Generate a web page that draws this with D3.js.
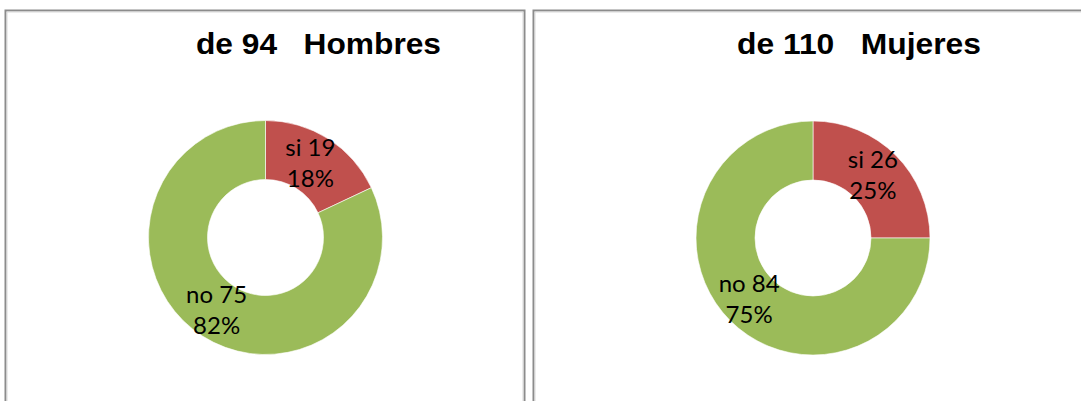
<!DOCTYPE html>
<html>
<head>
<meta charset="utf-8">
<script src="https://cdn.jsdelivr.net/npm/d3@7"></script>
<style>
  html, body { margin: 0; padding: 0; background: #ffffff; }
  svg { display: block; }
</style>
</head>
<body>
<svg id="chart" width="1081" height="401"></svg>
<script>
// ---- data ----
const titles = ["de 94   Hombres", "de 110   Mujeres"];
const categories = ["si", "no"];
const countsHombres = [19, 75];
const countsMujeres = [26, 84];
const sharesHombres = [18, 82];   // shown percentages (slice sizes)
const sharesMujeres = [25, 75];
const colors = ["#C0504D", "#9BBB59"];

const panels = [
  { title: titles[0], counts: countsHombres, shares: sharesHombres,
    box: [5.5, 10.5, 519, 420], cx: 265.5, cy: 237.5, titleX: 196, titleLen: 245 },
  { title: titles[1], counts: countsMujeres, shares: sharesMujeres,
    box: [533.5, 10.5, 600, 420], cx: 813, cy: 238, titleX: 737, titleLen: 244 }
];

const svg = d3.select("#chart");
const R = 117, r = 58;

const pie = d3.pie().sort(null).value(d => d.share);
const arc = d3.arc().innerRadius(r).outerRadius(R);

panels.forEach(p => {
  // frame
  svg.append("rect")
    .attr("x", p.box[0]).attr("y", p.box[1])
    .attr("width", p.box[2]).attr("height", p.box[3])
    .attr("fill", "#ffffff")
    .attr("stroke", "#8c8c8c").attr("stroke-width", 2);
  svg.append("rect")
    .attr("x", p.box[0] + 1.5).attr("y", p.box[1] + 1.5)
    .attr("width", p.box[2] - 3).attr("height", p.box[3] - 3)
    .attr("fill", "none")
    .attr("stroke", "#d9d9d9").attr("stroke-width", 1);

  // title
  svg.append("text")
    .attr("x", p.titleX).attr("y", 54)
    .attr("textLength", p.titleLen)
    .attr("lengthAdjust", "spacingAndGlyphs")
    .style("white-space", "pre")
    .attr("font-family", "'Liberation Sans', Arial, sans-serif")
    .attr("font-weight", "bold")
    .attr("font-size", 29)
    .attr("fill", "#000")
    .text(p.title);

  const data = categories.map((c, i) => ({ cat: c, count: p.counts[i], share: p.shares[i] }));
  const g = svg.append("g").attr("transform", `translate(${p.cx},${p.cy})`);
  const arcs = pie(data);

  g.selectAll("path").data(arcs).join("path")
    .attr("d", arc)
    .attr("fill", (d, i) => colors[i])
    .attr("stroke", "#ffffff").attr("stroke-width", 0.6);

  const lbl = g.selectAll("text.lbl").data(arcs).join("text")
    .attr("class", "lbl")
    .attr("transform", d => { const c = arc.centroid(d); return `translate(${c[0] - 2},${c[1] - 1})`; })
    .attr("text-anchor", "middle")
    .attr("font-family", "Lato, 'Open Sans', sans-serif")
    .attr("font-size", 24)
    .attr("fill", "#000");
  lbl.append("tspan").attr("x", 0).attr("y", -7).text(d => `${d.data.cat} ${d.data.count}`);
  lbl.append("tspan").attr("x", 0).attr("y", 24).text(d => `${d.data.share}%`);
});
</script>
</body>
</html>
